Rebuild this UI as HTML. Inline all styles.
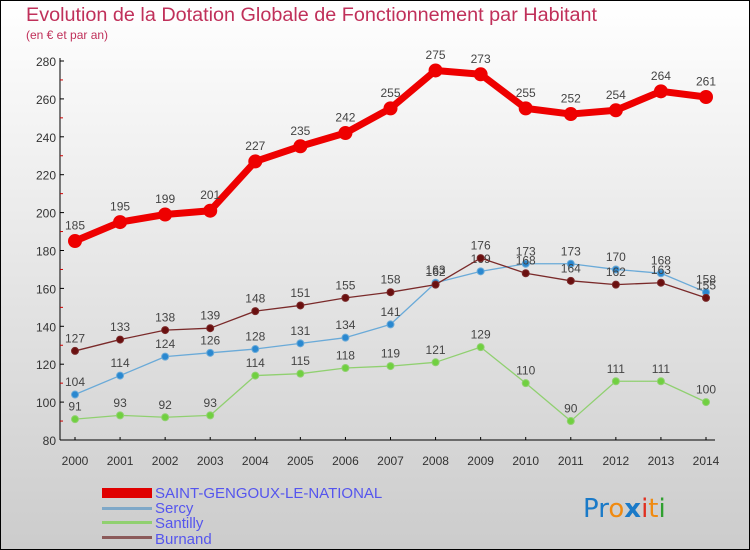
<!DOCTYPE html>
<html><head><meta charset="utf-8"><style>
html,body{margin:0;padding:0}
body{width:750px;height:550px;overflow:hidden;font-family:"Liberation Sans",sans-serif}
svg{display:block}
</style></head><body>
<svg id="chart" width="750" height="550">
<defs><linearGradient id="bg" x1="0" y1="0" x2="0" y2="1"><stop offset="0" stop-color="#ffffff"/><stop offset="1" stop-color="#cccccc"/></linearGradient></defs>
<rect x="0.5" y="0.5" width="749" height="549" fill="url(#bg)" stroke="#000"/>
<text x="26" y="21" font-size="19" textLength="571" lengthAdjust="spacingAndGlyphs" fill="#c0305a">Evolution de la Dotation Globale de Fonctionnement par Habitant</text>
<text x="26" y="39" font-size="12" fill="#c0305a">(en € et par an)</text>
<g id="axes"></g>
<g id="series"></g>
<g>
<rect x="102" y="488" width="50" height="10" fill="#e00000"/>
<text x="155" y="498" font-size="15" fill="#5555ee">SAINT-GENGOUX-LE-NATIONAL</text>
<rect x="102" y="507" width="50" height="3" fill="#7fa8c8"/>
<text x="155" y="513" font-size="15" fill="#5555ee">Sercy</text>
<rect x="102" y="521" width="50" height="3" fill="#90d070"/>
<text x="155" y="528" font-size="15" fill="#5555ee">Santilly</text>
<rect x="102" y="536" width="50" height="3" fill="#8b5a5a"/>
<text x="155" y="544" font-size="15" fill="#5555ee">Burnand</text>
</g>
<text x="583" y="517" font-size="26" font-family="'DejaVu Sans',sans-serif"><tspan fill="#1a7ac8">P</tspan><tspan fill="#1a7ac8">r</tspan><tspan fill="#f08a10">o</tspan><tspan fill="#1a7ac8" font-weight="bold">x</tspan><tspan fill="#e03020">i</tspan><tspan fill="#f08a10">t</tspan><tspan fill="#30a030">i</tspan></text>
</svg>
<script>
const years=[2000,2001,2002,2003,2004,2005,2006,2007,2008,2009,2010,2011,2012,2013,2014];
const yTicks=[80,100,120,140,160,180,200,220,240,260,280];
const saintGengoux=[185,195,199,201,227,235,242,255,275,273,255,252,254,264,261];
const sercy=[104,114,124,126,128,131,134,141,163,169,173,173,170,168,158];
const santilly=[91,93,92,93,114,115,118,119,121,129,110,90,111,111,100];
const burnand=[127,133,138,139,148,151,155,158,162,176,168,164,162,163,155];

const NS="http://www.w3.org/2000/svg";
const X0=75,X1=706,Y0=440,Y1=61,VMIN=80,VMAX=280;
const xs=i=>X0+(X1-X0)*i/(years.length-1);
const ys=v=>Y0-(v-VMIN)*(Y0-Y1)/(VMAX-VMIN);
function mk(tag,attrs,parent){const e=document.createElementNS(NS,tag);for(const k in attrs)e.setAttribute(k,attrs[k]);parent.appendChild(e);return e;}
const axes=document.getElementById('axes');
let yl=mk('line',{x1:60,y1:58,x2:60,y2:440,stroke:'#000'},axes);


let xl=mk('line',{x1:60,y1:440,x2:715,y2:440,stroke:'#000'},axes);


yTicks.forEach(v=>{
  mk('line',{x1:60,y1:ys(v),x2:64,y2:ys(v),stroke:'#000'},axes);
  if(v<280) mk('line',{x1:60,y1:ys(v+10),x2:63,y2:ys(v+10),stroke:'#c00'},axes);
  const t=mk('text',{x:56,y:ys(v)+5,'font-size':12,fill:'#333','text-anchor':'end'},axes);
  t.textContent=v;
  
  
});
years.forEach((y,i)=>{
  mk('line',{x1:xs(i),y1:437,x2:xs(i),y2:440,stroke:'#000'},axes);
  const t=mk('text',{x:xs(i),y:465,'font-size':12,fill:'#333','text-anchor':'middle'},axes);
  t.textContent=y;
  
  
});
const series=document.getElementById('series');
function draw(data,name,color,w,r,dot){
  const g=mk('g',{},series);
  
  
  const p=mk('polyline',{points:data.map((v,i)=>xs(i)+','+ys(v)).join(' '),fill:'none',stroke:color,'stroke-width':w,'stroke-linejoin':'round'},g);
  
  
  data.forEach((v,i)=>{
    const c=mk('circle',{cx:xs(i),cy:ys(v),r:r,fill:dot,stroke:color,'stroke-width':1},g);
    
    
    const t=mk('text',{x:xs(i),y:ys(v)-(r+5),'font-size':12,fill:'#444','text-anchor':'middle'},g);
    t.textContent=v;
    
    
  });
}
draw(santilly,'santilly','#90d070',1.3,3.5,'#70d040');
draw(sercy,'sercy','#6aaad8',1.3,3.5,'#2a88d0');
draw(burnand,'burnand','#7a2a2a',1.3,3.5,'#6a1010');
draw(saintGengoux,'saint-gengoux','#ee0000',7,6.5,'#ee0000');
</script>
</body></html>
